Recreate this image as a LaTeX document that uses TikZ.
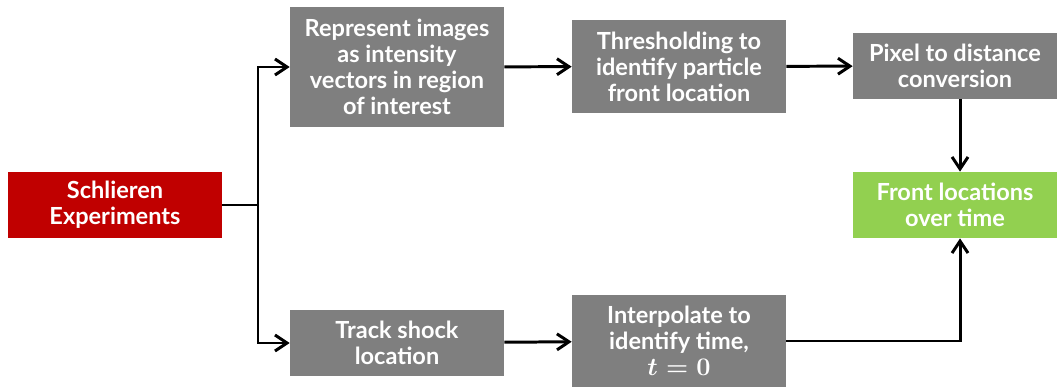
\documentclass[tikz,border=0pt]{standalone}
\usepackage{amsmath}
\usepackage{xcolor}
\usepackage{fontspec}
\setmainfont{Lato}
\usetikzlibrary{arrows.meta}

\definecolor{exred}{HTML}{C00000}
\definecolor{boxgray}{HTML}{7F7F7F}
\definecolor{okgreen}{HTML}{92D050}

\begin{document}
\begin{tikzpicture}[
  stage/.style={fill=boxgray,text=white,font=\bfseries\boldmath\fontsize{13.4}{14.8}\selectfont,align=center,inner sep=0pt,minimum width=4.28cm},
  flow/.style={line width=1.7pt,-{Straight Barb[length=2.4mm,width=3.2mm]}}
]
\useasboundingbox (0,0) rectangle (21.14,7.74);
\draw (2.30,3.64) node[stage,fill=exred,minimum height=1.32cm](schlieren) {Schlieren\\Experiments};
\draw (7.94,6.40) node[stage,minimum height=2.40cm](represent) {Represent images\\as intensity\\vectors in region\\of interest};
\draw (13.58,6.41) node[stage,minimum height=1.86cm](threshold) {Thresholding to\\identify particle\\front location};
\draw (19.10,6.42) node[stage,minimum width=4.08cm,minimum height=1.32cm](pixel) {Pixel to distance\\conversion};
\draw (19.10,3.64) node[stage,fill=okgreen,minimum width=4.08cm,minimum height=1.32cm](front) {Front locations\\over time};
\draw (7.94,0.88) node[stage,minimum height=1.32cm](track) {Track shock\\location};
\draw (13.58,0.92) node[stage,minimum height=1.84cm](interp) {Interpolate to\\identify time,\\$t=0$};
\coordinate (split) at (5.16,3.64);
\draw[line width=1.7pt] (schlieren) -- (split);
\draw[flow] (split) |- (represent);
\draw[flow] (split) |- (track);
\draw[flow] (represent) -- (threshold);
\draw[flow] (threshold) -- (pixel);
\draw[flow] (pixel.south -| 19.20,0) -- (front.north -| 19.20,0);
\draw[flow] (track) -- (interp);
\draw[flow] (interp.east) -| (front.south -| 19.20,0);
\end{tikzpicture}
\end{document}
